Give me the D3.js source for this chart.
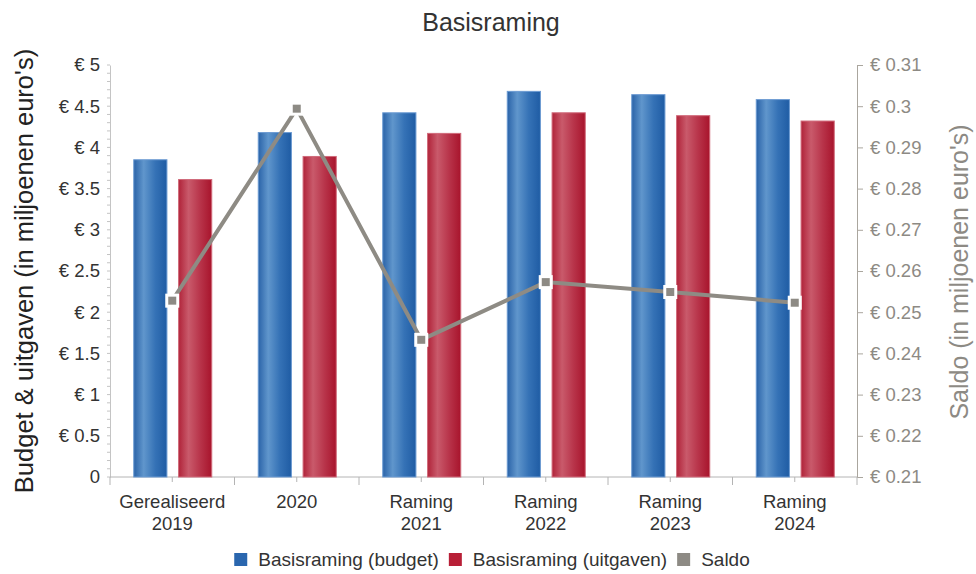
<!DOCTYPE html>
<html>
<head>
<meta charset="utf-8">
<script src="https://cdn.jsdelivr.net/npm/d3@7"></script>
<style>
  body { margin: 0; background: #fff; }
  text { font-family: "Liberation Sans", Arial, sans-serif; }
</style>
</head>
<body>
<div id="chart"></div>
<script>
// categories (two label lines each)
const categories = ["Gerealiseerd\n2019", "2020", "Raming\n2021", "Raming\n2022", "Raming\n2023", "Raming\n2024"];
const budget   = [3.85, 4.18, 4.42, 4.68, 4.64, 4.58];
const uitgaven = [3.61, 3.89, 4.17, 4.42, 4.385, 4.32];
const saldo    = [0.2528, 0.2994, 0.2433, 0.2573, 0.2549, 0.2523];

const leftTicks  = [0, 0.5, 1, 1.5, 2, 2.5, 3, 3.5, 4, 4.5, 5];
const rightTicks = [0.21, 0.22, 0.23, 0.24, 0.25, 0.26, 0.27, 0.28, 0.29, 0.3, 0.31];
const seriesNames = ["Basisraming (budget)", "Basisraming (uitgaven)", "Saldo"];

const W = 976, H = 574;
const plotL = 110, plotR = 857, plotT = 65, plotB = 477;

const svg = d3.select("#chart").append("svg")
    .attr("width", W)
    .attr("height", H);

// gradients for the bars
const defs = svg.append("defs");
function gradient(id, stops) {
    const g = defs.append("linearGradient").attr("id", id)
        .attr("x1", "0%").attr("x2", "100%").attr("y1", "0%").attr("y2", "0%");
    stops.forEach(s => g.append("stop").attr("offset", s[0]).attr("stop-color", s[1]));
}
gradient("gBlue", [["0%", "#2a63a8"], ["30%", "#6096cc"], ["65%", "#3572b6"], ["100%", "#1f5ca4"]]);
gradient("gRed",  [["0%", "#b02339"], ["30%", "#c95a6b"], ["65%", "#b8344a"], ["100%", "#a8142c"]]);

const x = d3.scaleBand().domain(categories).range([plotL, plotR]);
const x1 = d3.scaleBand().domain([0, 1]).range([-38.5, 39.5]).paddingInner(0.26);
const y = d3.scaleLinear().domain([0, 5]).range([plotB, plotT]);
const y2 = d3.scaleLinear().domain([0.21, 0.31]).range([plotB, plotT]);

// title
svg.append("text")
    .attr("x", 491).attr("y", 31)
    .attr("text-anchor", "middle")
    .style("font-size", "25px")
    .style("fill", "#333")
    .text("Basisraming");

// left axis
const yAxis = d3.axisLeft(y).tickValues(leftTicks).tickSize(0).tickPadding(10)
    .tickFormat(d => d === 0 ? "0" : "€ " + d);
const gy = svg.append("g").attr("transform", `translate(${plotL},0)`).call(yAxis);
gy.select(".domain").attr("stroke", "#c4c4c4");
gy.selectAll("text").style("font-size", "18.5px").style("fill", "#333");

// minor ticks on left axis
svg.append("g").selectAll("line")
    .data(d3.range(0, 51).map(i => i / 10))
    .enter().append("line")
    .attr("x1", plotL - 3).attr("x2", plotL)
    .attr("y1", d => y(d)).attr("y2", d => y(d))
    .attr("stroke", "#c4c4c4");

// right axis
const y2Axis = d3.axisRight(y2).tickValues(rightTicks).tickSize(6).tickPadding(7)
    .tickFormat(d => "€ " + d);
const gy2 = svg.append("g").attr("transform", `translate(${plotR},0)`).call(y2Axis);
gy2.select(".domain").attr("stroke", "#aaa69e");
gy2.selectAll(".tick line").attr("stroke", "#aaa69e");
gy2.selectAll("text").style("font-size", "18.5px").style("fill", "#8d8a84");

// x axis
const gx = svg.append("g").attr("transform", `translate(0,${plotB})`);
gx.append("line").attr("x1", plotL).attr("x2", plotR).attr("stroke", "#b4b4b4");
gx.selectAll(".bt")
    .data(categories.concat(["end"]))
    .enter().append("line")
    .attr("x1", (d, i) => plotL + i * x.step()).attr("x2", (d, i) => plotL + i * x.step())
    .attr("y1", 0).attr("y2", 8)
    .attr("stroke", "#b4b4b4");
gx.selectAll(".ct")
    .data(categories)
    .enter().append("line")
    .attr("x1", d => x(d) + x.bandwidth() / 2).attr("x2", d => x(d) + x.bandwidth() / 2)
    .attr("y1", 0).attr("y2", 5)
    .attr("stroke", "#b4b4b4");
gx.selectAll(".lbl")
    .data(categories)
    .enter().append("text")
    .attr("x", d => x(d) + x.bandwidth() / 2)
    .attr("y", 31)
    .attr("text-anchor", "middle")
    .style("font-size", "18.5px")
    .style("fill", "#333")
    .each(function(d) {
        const lines = d.split("\n");
        lines.forEach((l, i) => {
            d3.select(this).append("tspan")
                .attr("x", x(d) + x.bandwidth() / 2)
                .attr("dy", i === 0 ? 0 : 22)
                .text(l);
        });
    });

// axis titles
svg.append("text")
    .attr("transform", "translate(33,271) rotate(-90)")
    .attr("text-anchor", "middle")
    .style("font-size", "25.5px")
    .style("fill", "#222")
    .text("Budget & uitgaven (in miljoenen euro's)");
svg.append("text")
    .attr("transform", "translate(968,272) rotate(-90)")
    .attr("text-anchor", "middle")
    .style("font-size", "25px")
    .style("fill", "#8d8a84")
    .text("Saldo (in miljoenen euro's)");

// bars
const bars = svg.append("g");
[[budget, "url(#gBlue)", "#6b9ad2"], [uitgaven, "url(#gRed)", "#d06a7a"]].forEach((s, si) => {
    bars.selectAll(".b" + si)
        .data(s[0])
        .enter().append("rect")
        .attr("x", (d, i) => x(categories[i]) + x.bandwidth() / 2 + x1(si))
        .attr("width", x1.bandwidth())
        .attr("y", d => y(d))
        .attr("height", d => plotB - y(d))
        .attr("fill", s[1])
        .attr("stroke", s[2])
        .attr("stroke-width", 1);
});

// saldo line
const line = d3.line()
    .x((d, i) => x(categories[i]) + x.bandwidth() / 2)
    .y(d => y2(d));
svg.append("path")
    .datum(saldo)
    .attr("d", line)
    .attr("fill", "none")
    .attr("stroke", "#8e8b84")
    .attr("stroke-width", 4);
svg.selectAll(".mk")
    .data(saldo)
    .enter().append("rect")
    .attr("x", (d, i) => x(categories[i]) + x.bandwidth() / 2 - 5.5)
    .attr("y", d => y2(d) - 5.5)
    .attr("width", 11).attr("height", 11)
    .attr("fill", "#8d8a84")
    .attr("stroke", "#fff")
    .attr("stroke-width", 3);

// legend
const legendColors = ["#2a66ae", "#b81f37", "#8d8a84"];
const lg = svg.append("g");
let lx = 0;
seriesNames.forEach((n, i) => {
    lg.append("rect")
        .attr("x", lx).attr("y", 553)
        .attr("width", 13).attr("height", 13)
        .attr("fill", legendColors[i]);
    const t = lg.append("text")
        .attr("x", lx + 24).attr("y", 566)
        .style("font-size", "19px")
        .style("fill", "#333")
        .text(n);
    lx += 24 + t.node().getComputedTextLength() + 10;
});
lg.attr("transform", `translate(${492 - (lx - 10) / 2},0)`);
</script>
</body>
</html>
